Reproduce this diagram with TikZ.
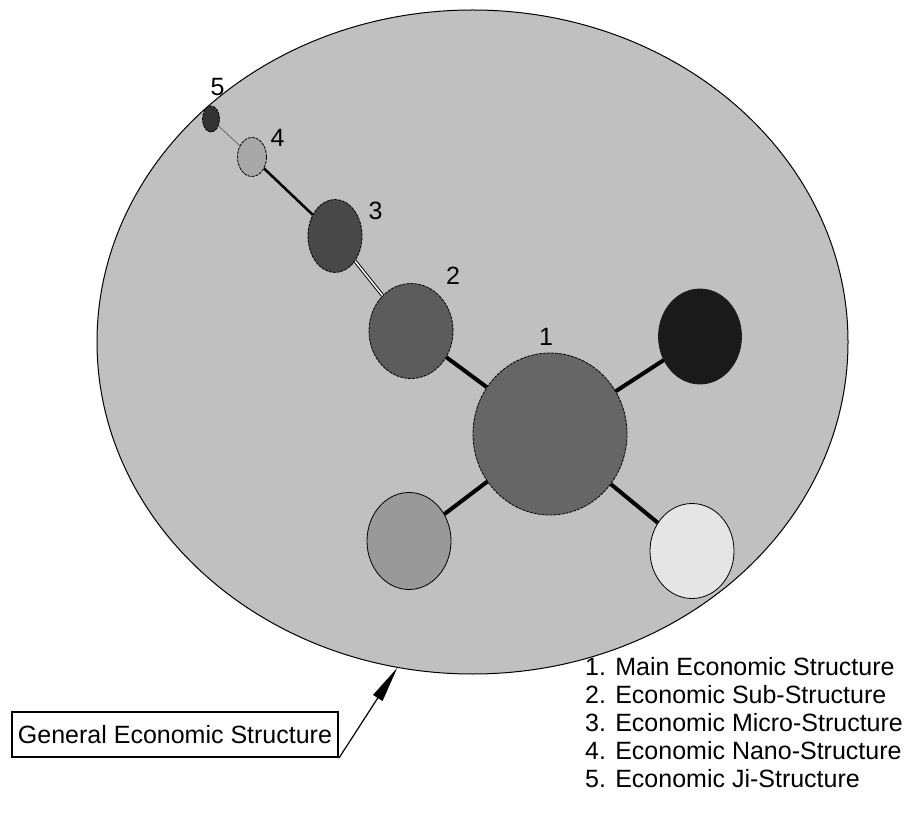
\documentclass[tikz,border=0pt]{standalone}
\usepackage{fontspec}
\setmainfont{Liberation Sans}
\usetikzlibrary{shapes.geometric,arrows.meta}

\definecolor{genfill}{HTML}{C0C0C0}
\definecolor{mainfill}{HTML}{666666}
\definecolor{subfill}{HTML}{5C5C5C}
\definecolor{microfill}{HTML}{484848}
\definecolor{nanofill}{HTML}{A8A8A8}
\definecolor{jifill}{HTML}{333333}
\definecolor{darkfill}{HTML}{1A1A1A}
\definecolor{lightfill}{HTML}{E5E5E5}
\definecolor{midfill}{HTML}{999999}

\begin{document}
\begin{tikzpicture}[x=1pt, y=1pt,
    every node/.style={font=\fontsize{25}{30}\selectfont},
    blob/.style={draw, ellipse, inner sep=0pt, line width=0.8pt, dash pattern=on 3pt off 1pt},
    link/.style={line width=4pt}]
      \def\legx{585}
      \def\legy{148}
      \def\legskip{28.2}
      \useasboundingbox (0,0) rectangle (915,823);

      %general structure
      \node[draw, ellipse, fill=genfill, line width=1pt, inner sep=0pt, minimum width=751, minimum height=664, name=gen] at (472.5,481) {};

      %blobs
      \node[blob, fill=mainfill , minimum width=154, minimum height=162, name=main ] at (550,389)   {};
      \node[blob, fill=subfill  , minimum width=84 , minimum height=95 , name=sub  ] at (411,492)   {};
      \node[blob, fill=microfill, minimum width=54 , minimum height=73 , name=micro] at (335,587)   {};
      \node[blob, fill=nanofill , minimum width=29 , minimum height=39 , name=nano ] at (252,666)   {};
      \node[blob, fill=jifill   , minimum width=17 , minimum height=26 , name=ji   ] at (211,704)   {};
      \node[blob, solid, draw=darkfill, fill=darkfill, minimum width=83, minimum height=95, name=dark ] at (700,486.5) {};
      \node[blob, solid, fill=lightfill, minimum width=84, minimum height=95, name=light] at (692,272)   {};
      \node[blob, solid, fill=midfill  , minimum width=84, minimum height=97, name=mid  ] at (409,282)   {};

      %links
      \draw[link] (main) -- (sub);
      \draw[link] (main) -- (dark);
      \draw[link] (main) -- (light);
      \draw[link] (main) -- (mid);
      \draw[double=white, double distance=1.5pt, line width=1pt] (sub) -- (micro);
      \draw[line width=2.5pt] (micro) -- (nano);
      \draw[line width=0.8pt, black!60] (nano) -- (ji);

      %numbers
      \node[name=lab1] at (546,486.5) {1};
      \node[name=lab2] at (453,547)   {2};
      \node[name=lab3] at (375.5,612) {3};
      \node[name=lab4] at (277.5,685) {4};
      \node[name=lab5] at (217.5,736) {5};

      %callout
      \node[draw, line width=2pt, inner sep=0pt, minimum width=326, minimum height=45, name=callout] at (175,88.5) {General Economic Structure};
      \draw[-{Triangle[length=36pt, width=11pt]}, line width=1.2pt] (callout.south east) -- (gen.-103);

      %legend
      \foreach \i/\txt in {1/Main Economic Structure, 2/Economic Sub-Structure, 3/Economic Micro-Structure, 4/Economic Nano-Structure, 5/Economic Ji-Structure}
        \node[anchor=base west, inner sep=0pt, name=leg\i] at (\legx, {\legy-\legskip*(\i-1)}) {\i. \txt};
\end{tikzpicture}
\end{document}
